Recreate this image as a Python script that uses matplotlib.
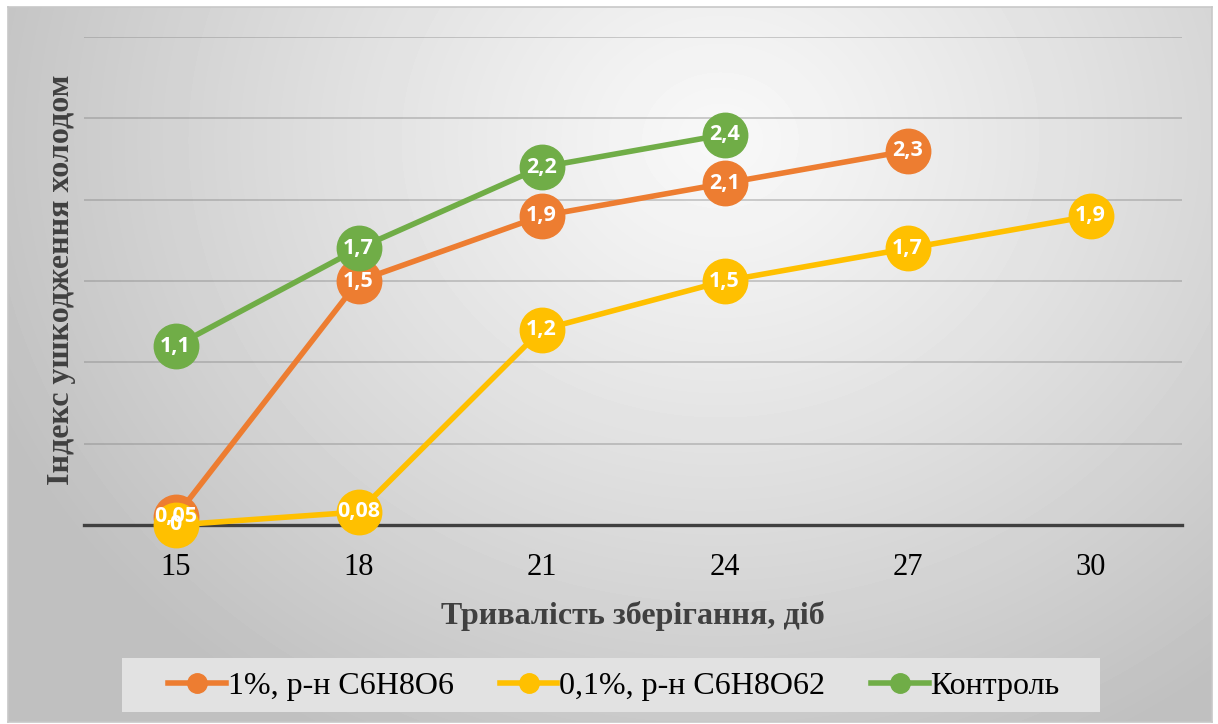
import numpy as np
import matplotlib
matplotlib.use("Agg")
import matplotlib.pyplot as plt
from matplotlib.patches import Rectangle
from matplotlib.lines import Line2D

# Storage duration, days
days = ["15", "18", "21", "24", "27", "30"]

# Cold damage index per treatment (None = not observed)
series_names = ["1%, р-н C6H8O6", "0,1%, р-н C6H8O62", "Контроль"]
vals_1pct = [0.05, 1.5, 1.9, 2.1, 2.3, None]
vals_01pct = [0.0, 0.08, 1.2, 1.5, 1.7, 1.9]
vals_control = [1.1, 1.7, 2.2, 2.4, None, None]

colors = ["#ED7D31", "#FFC000", "#70AD47"]
serif = ["Liberation Serif", "DejaVu Serif"]

W, H = 1218, 724
fig = plt.figure(figsize=(W / 100, H / 100), dpi=100)
fig.patch.set_facecolor("white")

# Radial grey gradient panel behind the chart
bg = fig.add_axes([8 / W, 1 - 722 / H, 1204 / W, 715 / H], zorder=0)
yy, xx = np.mgrid[7:722, 8:1212]
d = np.sqrt(((xx - 720) / 760.0) ** 2 + ((yy - 140) / 660.0) ** 2)
shade = np.clip(248 - 54 * d ** 1.15, 192, 250) / 255.0
bg.imshow(shade, cmap="gray", vmin=0, vmax=1, aspect="auto",
          extent=[0, 1, 0, 1], interpolation="bilinear")
bg.set_xlim(0, 1)
bg.set_ylim(0, 1)
for s in bg.spines.values():
    s.set_color("#c8c8c8")
    s.set_linewidth(1.2)
bg.set_xticks([])
bg.set_yticks([])

ax = fig.add_axes([84 / W, 1 - 525 / H, 1098 / W, 488 / H], zorder=2)
ax.set_facecolor("none")
x = np.arange(len(days))
ax.set_xlim(-0.5, len(days) - 0.5)
ax.set_ylim(0, 3.0)
ax.set_yticks(np.arange(0, 3.01, 0.5))
ax.yaxis.grid(True, color="#7f7f7f", alpha=0.4, linewidth=1.3)
ax.set_axisbelow(True)
for s in ["top", "right", "left"]:
    ax.spines[s].set_visible(False)
ax.spines["bottom"].set_color("#404040")
ax.spines["bottom"].set_linewidth(2.4)
ax.spines["bottom"].set_zorder(1.5)
ax.tick_params(axis="y", left=False, labelleft=False)
ax.tick_params(axis="x", length=0, pad=20)
ax.set_xticks(x)
ax.set_xticklabels(days, fontfamily=serif, fontsize=22, color="black")

all_vals = [vals_1pct, vals_01pct, vals_control]
for i, (vals, col) in enumerate(zip(all_vals, colors)):
    xs = [xi for xi, v in zip(x, vals) if v is not None]
    ys = [v for v in vals if v is not None]
    ax.plot(xs, ys, color=col, linewidth=4, marker="o", markersize=32,
            markerfacecolor=col, markeredgecolor=col, clip_on=False,
            zorder=3 + i, solid_capstyle="round")

def fmt(v):
    s = f"{v:g}"
    return s.replace(".", ",")

for i, vals in enumerate(all_vals):
    for xi, v in zip(x, vals):
        if v is None:
            continue
        ax.text(xi, v, fmt(v), ha="center", va="center", color="white",
                fontfamily="Open Sans", fontweight="bold", fontsize=15.5,
                zorder=10 + i, clip_on=False)

ax.set_xlabel("Тривалість зберігання, діб", fontfamily=serif,
              fontweight="bold", fontsize=23, color="#404040", labelpad=14)
fig.text(62 / W, 1 - 280 / H, "Індекс ушкодження холодом", rotation=90,
         ha="center", va="center", fontfamily=serif,
         fontweight="bold", fontsize=23, color="#404040")

# Legend band
fig.patches.append(Rectangle((122 / W, 1 - 712 / H), 978 / W, 54 / H,
                             transform=fig.transFigure, facecolor="#e2e2e2",
                             edgecolor="none", zorder=1))
handles = [Line2D([0], [0], color=c, linewidth=4, marker="o", markersize=14,
                  markerfacecolor=c, markeredgecolor=c) for c in colors]
leg = fig.legend(handles, series_names, loc="center", ncol=3,
                 bbox_to_anchor=(614 / W, 1 - 686 / H), frameon=False,
                 prop={"family": serif, "size": 23},
                 handlelength=1.8, handletextpad=0.05, columnspacing=1.45)
leg.set_zorder(3)

fig.savefig("out.png", dpi=100)
